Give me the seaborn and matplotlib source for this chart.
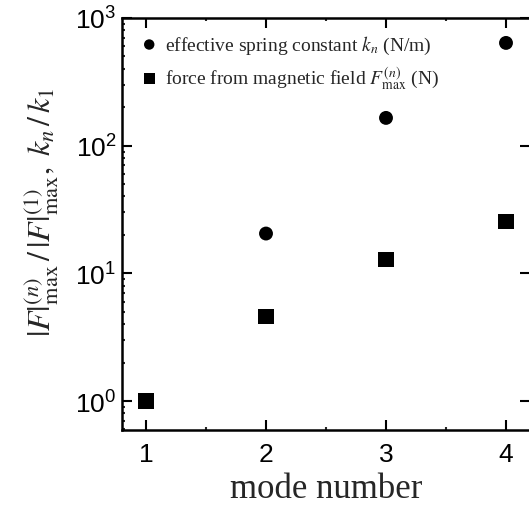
import matplotlib
matplotlib.use("Agg")
import matplotlib.pyplot as plt
import seaborn as sns
import pandas as pd
import numpy as np
from matplotlib.ticker import FixedLocator, MultipleLocator, LogLocator, NullFormatter

# ---- data ----
mode_number = [1, 2, 3, 4]
spring_constant_ratio = [1.0, 20.5, 165, 638]      # k_n / k_1
force_ratio = [1.0, 4.6, 12.9, 25.5]               # |F|max^(n) / |F|max^(1)
label_k = r"effective spring constant $k_n$ (N/m)"
label_f = r"force from magnetic field $F^{(n)}_{\rm max}$ (N)"
x_ticks = [1, 2, 3, 4]
y_ticks = [1, 10, 100, 1000]
y_tick_labels = [r"$10^{0}$", r"$10^{1}$", r"$10^{2}$", r"$10^{3}$"]

sns.set_theme(style="ticks")
plt.rcParams["font.family"] = ["Liberation Sans", "DejaVu Sans"]
plt.rcParams["mathtext.fontset"] = "custom"
plt.rcParams["mathtext.rm"] = "Liberation Sans"
plt.rcParams["mathtext.it"] = "Liberation Sans:italic"
plt.rcParams["mathtext.bf"] = "Liberation Sans:bold"

df_k = pd.DataFrame({"mode": mode_number, "value": spring_constant_ratio})
df_f = pd.DataFrame({"mode": mode_number, "value": force_ratio})

fig = plt.figure(figsize=(5.29, 5.06), dpi=100)
ax = fig.add_axes([122 / 529, 1 - 431 / 506, 408 / 529, 412 / 506])

sns.scatterplot(data=df_k, x="mode", y="value", marker="o", s=100, color="black",
                edgecolor="none", label=label_k, ax=ax, zorder=3)
sns.scatterplot(data=df_f, x="mode", y="value", marker="s", s=118, color="black",
                edgecolor="none", label=label_f, ax=ax, zorder=4)

ax.set_yscale("log")
ax.set_xlim(0.8, 4.2)
ax.set_ylim(10 ** (-0.227), 10 ** 3.0)

ax.xaxis.set_major_locator(FixedLocator(x_ticks))
ax.xaxis.set_minor_locator(MultipleLocator(0.5))
ax.set_xticklabels([str(v) for v in x_ticks])
ax.yaxis.set_major_locator(FixedLocator(y_ticks))
ax.set_yticklabels(y_tick_labels)
ax.yaxis.set_minor_locator(LogLocator(base=10, subs=np.arange(2, 10)))
ax.yaxis.set_minor_formatter(NullFormatter())

ax.tick_params(which="major", direction="in", length=7, width=1.5,
               top=True, right=True, labelsize=19, pad=4, colors="black")
ax.tick_params(which="minor", direction="in", length=2.5, width=1.5,
               top=True, right=False)
ax.tick_params(axis="x", which="major", pad=9)

for sp in ax.spines.values():
    sp.set_linewidth(1.8)
    sp.set_color("black")

ax.set_xlabel("mode number", family="Liberation Serif", fontsize=25, labelpad=4)
yl = ax.set_ylabel(r"$|F|^{(n)}_{\rm max}\,/\,|F|^{(1)}_{\rm max},\;k_n\,/\,k_1$", fontsize=23)
yl.set_math_fontfamily("stix")
ax.yaxis.set_label_coords(-0.15, 0.53)

leg = ax.legend(loc="upper left", frameon=False, prop={"family": "Liberation Serif", "size": 14},
                markerscale=0.75, handletextpad=0.2, borderaxespad=0.3, labelspacing=0.45,
                borderpad=0.5, handlelength=1.2)
for t in leg.get_texts():
    t.set_math_fontfamily("stix")

fig.savefig("out.png", dpi=100)
